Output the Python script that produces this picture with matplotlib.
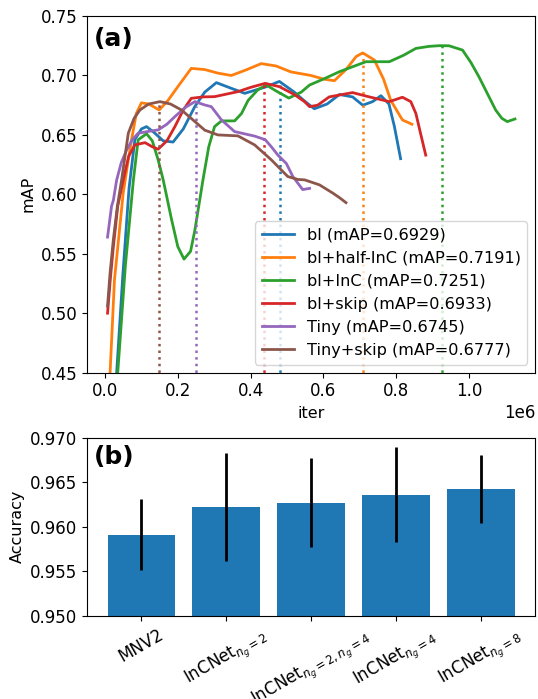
import matplotlib
matplotlib.use("Agg")
import matplotlib.pyplot as plt
import numpy as np

# ---------------- data (a): mAP vs iter (x in units of 1e6) ----------------
BL_X = [0.010, 0.032, 0.049, 0.066, 0.082, 0.100, 0.114, 0.135, 0.160, 0.187, 0.215, 0.247,
        0.274, 0.306, 0.340, 0.384, 0.438, 0.479, 0.520, 0.550, 0.575, 0.610, 0.644, 0.680,
        0.708, 0.735, 0.758, 0.780, 0.795, 0.812]
BL_Y = [0.380, 0.450, 0.532, 0.605, 0.646, 0.655, 0.657, 0.652, 0.645, 0.644, 0.655, 0.674,
        0.686, 0.694, 0.690, 0.685, 0.690, 0.695, 0.686, 0.678, 0.672, 0.676, 0.684, 0.682,
        0.675, 0.678, 0.683, 0.676, 0.657, 0.630]

HALF_X = [0.010, 0.014, 0.026, 0.050, 0.064, 0.073, 0.086, 0.100, 0.120, 0.149, 0.173, 0.201,
          0.237, 0.274, 0.310, 0.347, 0.390, 0.429, 0.470, 0.511, 0.566, 0.600, 0.630, 0.662,
          0.690, 0.708, 0.740, 0.765, 0.785, 0.817, 0.843]
HALF_Y = [0.420, 0.450, 0.528, 0.601, 0.629, 0.646, 0.668, 0.677, 0.676, 0.671, 0.679, 0.691,
          0.706, 0.705, 0.702, 0.700, 0.705, 0.710, 0.708, 0.703, 0.700, 0.697, 0.6956, 0.705,
          0.716, 0.719, 0.713, 0.697, 0.679, 0.6626, 0.659]

INC_X = [0.010, 0.035, 0.056, 0.078, 0.091, 0.114, 0.130, 0.146, 0.160, 0.183, 0.200, 0.217,
         0.235, 0.247, 0.269, 0.285, 0.301, 0.320, 0.356, 0.375, 0.393, 0.420, 0.443, 0.470,
         0.505, 0.539, 0.562, 0.600, 0.644, 0.717, 0.781, 0.820, 0.854, 0.890, 0.918, 0.945,
         0.982, 1.005, 1.027, 1.050, 1.073, 1.090, 1.105, 1.126]
INC_Y = [0.360, 0.450, 0.540, 0.612, 0.6458, 0.651, 0.645, 0.629, 0.612, 0.5786, 0.556, 0.5455,
         0.552, 0.570, 0.612, 0.640, 0.657, 0.6618, 0.6618, 0.668, 0.679, 0.688, 0.692, 0.687,
         0.681, 0.686, 0.692, 0.697, 0.7032, 0.7116, 0.7116, 0.717, 0.7228, 0.7245, 0.7251, 0.7250,
         0.7214, 0.711, 0.699, 0.685, 0.671, 0.664, 0.6612, 0.6634]

SKIP_X = [0.007, 0.015, 0.023, 0.035, 0.050, 0.065, 0.082, 0.110, 0.130, 0.146, 0.170, 0.192,
          0.215, 0.237, 0.270, 0.301, 0.365, 0.400, 0.440, 0.479, 0.520, 0.548, 0.562, 0.584,
          0.616, 0.680, 0.726, 0.781, 0.817, 0.840, 0.854, 0.867, 0.881]
SKIP_Y = [0.500, 0.530, 0.556, 0.590, 0.612, 0.632, 0.6416, 0.6435, 0.640, 0.638, 0.645, 0.657,
          0.671, 0.6808, 0.682, 0.6822, 0.6864, 0.690, 0.6934, 0.6906, 0.684, 0.678, 0.6738, 0.675,
          0.682, 0.6856, 0.682, 0.678, 0.6817, 0.678, 0.668, 0.651, 0.633]

TINY_X = [0.007, 0.018, 0.023, 0.032, 0.045, 0.059, 0.075, 0.091, 0.120, 0.146, 0.170, 0.192,
          0.220, 0.247, 0.274, 0.292, 0.320, 0.356, 0.411, 0.440, 0.457, 0.475, 0.498, 0.516,
          0.543, 0.562]
TINY_Y = [0.564, 0.590, 0.595, 0.612, 0.627, 0.637, 0.646, 0.6514, 0.653, 0.6542, 0.659, 0.6654,
          0.673, 0.678, 0.6752, 0.6738, 0.6626, 0.6528, 0.649, 0.646, 0.640, 0.633, 0.626, 0.615,
          0.604, 0.6050]

TSKIP_X = [0.007, 0.014, 0.023, 0.034, 0.0456, 0.064, 0.080, 0.096, 0.120, 0.151, 0.180, 0.210,
           0.247, 0.274, 0.310, 0.365, 0.411, 0.457, 0.502, 0.530, 0.548, 0.589, 0.626, 0.645,
           0.662]
TSKIP_Y = [0.5060, 0.534, 0.562, 0.590, 0.612, 0.6514, 0.664, 0.671, 0.676, 0.678, 0.676, 0.671,
           0.6612, 0.654, 0.650, 0.6492, 0.6416, 0.629, 0.615, 0.6125, 0.6122, 0.608, 0.601, 0.597,
           0.593]

LABELS = ["bl", "bl+half-InC", "bl+InC", "bl+skip", "Tiny", "Tiny+skip"]
BEST_MAP = [0.6929, 0.7191, 0.7251, 0.6933, 0.6745, 0.6777]
BEST_ITER = [0.481, 0.708, 0.925, 0.436, 0.249, 0.149]

# ---------------- data (b): accuracy bars ----------------
MODELS = ["MNV2", r"InCNet$_{n_g=2}$", r"InCNet$_{n_g=2,n_g=4}$",
          r"InCNet$_{n_g=4}$", r"InCNet$_{n_g=8}$"]
ACC = [0.9591, 0.9622, 0.9627, 0.9636, 0.9642]
ACC_ERR = [0.0040, 0.0061, 0.0050, 0.0053, 0.0038]

curves = [(BL_X, BL_Y), (HALF_X, HALF_Y), (INC_X, INC_Y),
          (SKIP_X, SKIP_Y), (TINY_X, TINY_Y), (TSKIP_X, TSKIP_Y)]

plt.rcParams["font.size"] = 12

DPI = 100
fig, (ax1, ax2) = plt.subplots(2, 1, figsize=(538 / DPI, 699 / DPI), dpi=DPI,
                               gridspec_kw={"height_ratios": [2, 1]})
fig.subplots_adjust(left=0.162, right=0.995, top=0.977, bottom=0.119, hspace=0.243)

for i, ((xs, ys), lab) in enumerate(zip(curves, LABELS)):
    color = f"C{i}"
    ax1.plot(np.array(xs) * 1e6, ys, color=color, lw=2,
             label=f"{lab} (mAP={BEST_MAP[i]:.4f})")
    ax1.vlines(BEST_ITER[i] * 1e6, 0.40, BEST_MAP[i], colors=color,
               linestyles=":", lw=1.8)

ax1.set_ylim(0.45, 0.75)
ax1.set_xlim(-0.049e6, 1.182e6)
ax1.set_xlabel("iter", fontsize=11.5)
ax1.set_ylabel("mAP", fontsize=11.5)
ax1.legend(loc="lower right", fontsize=11.6)
ax1.text(0.015, 0.97, "(a)", transform=ax1.transAxes, fontsize=18,
         fontweight="bold", va="top", ha="left")

xpos = np.arange(len(MODELS))
ax2.bar(xpos, ACC, width=0.8, color="C0", yerr=ACC_ERR, ecolor="black",
        error_kw={"elinewidth": 2})
ax2.set_ylim(0.950, 0.970)
ax2.set_yticks([0.950, 0.955, 0.960, 0.965, 0.970])
ax2.set_xticks(xpos)
ax2.set_xticklabels(MODELS, rotation=30)
ax2.set_ylabel("Accuracy", fontsize=11.5)
ax2.text(0.015, 0.96, "(b)", transform=ax2.transAxes, fontsize=18,
         fontweight="bold", va="top", ha="left")

fig.savefig("out.png", dpi=DPI)
